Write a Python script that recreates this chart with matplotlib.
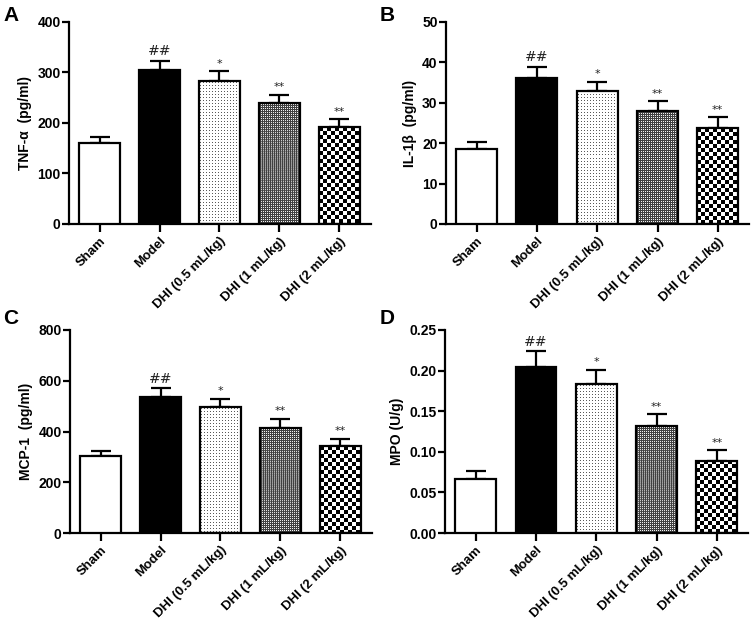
import matplotlib.pyplot as plt
import numpy as np

plt.rcParams['font.family'] = ['Liberation Sans', 'DejaVu Sans']

# DATA
groups = ['Sham', 'Model', 'DHI (0.5 mL/kg)', 'DHI (1 mL/kg)', 'DHI (2 mL/kg)']
sig_marks = ['', '##', '*', '**', '**']

tnf_mean = [160, 305, 283, 240, 192]
tnf_err = [12, 18, 19, 16, 16]

il1b_mean = [18.5, 36.2, 33.0, 27.9, 23.7]
il1b_err = [1.8, 2.7, 2.2, 2.5, 2.7]

mcp1_mean = [302, 535, 496, 415, 341]
mcp1_err = [20, 36, 34, 36, 30]

mpo_mean = [0.067, 0.204, 0.183, 0.132, 0.089]
mpo_err = [0.009, 0.020, 0.018, 0.014, 0.013]

panels = [
    ('A', tnf_mean, tnf_err, 'TNF-\u03b1  (pg/ml)', 400, 100, '%d'),
    ('B', il1b_mean, il1b_err, 'IL-1\u03b2  (pg/ml)', 50, 10, '%d'),
    ('C', mcp1_mean, mcp1_err, 'MCP-1  (pg/ml)', 800, 200, '%d'),
    ('D', mpo_mean, mpo_err, 'MPO (U/g)', 0.25, 0.05, '%.2f'),
]

# axes rectangles (fig fraction) : left, bottom, width, height
rects = [
    (0.0915, 0.6393, 0.400, 0.3253),
    (0.5915, 0.6393, 0.402, 0.3253),
    (0.0928, 0.1417, 0.400, 0.3269),
    (0.5902, 0.1417, 0.402, 0.3269),
]
letter_pos = [(0.004, 0.990), (0.503, 0.990), (0.004, 0.503), (0.503, 0.503)]

BAR_W = 0.68
LW = 1.6


def tile_pattern(kind, h, w):
    yy, xx = np.mgrid[0:h, 0:w]
    if kind == 'dots':
        img = np.where((xx % 3 == 1) & (yy % 3 == 1), 0.35, 1.0)
    elif kind == 'fine':
        img = np.where((xx % 2 == 0) & (yy % 2 == 0), 0.95, 0.25)
    else:
        img = np.where(((xx // 4) + (yy // 4)) % 2 == 0, 0.0, 1.0)
    return img


fig = plt.figure(figsize=(7.54, 6.21), dpi=100)

for (letter, mean, err, ylabel, ymax, ystep, fmt), rect, lp in zip(panels, rects, letter_pos):
    ax = fig.add_axes(rect)
    x = np.arange(len(groups))
    faces = ['white', 'black', 'none', 'none', 'none']
    bars = ax.bar(x, mean, width=BAR_W, color=faces, edgecolor='black',
                  linewidth=LW, zorder=3)
    ax.errorbar(x, mean, yerr=[np.zeros(len(mean)), err], fmt='none',
                ecolor='black', elinewidth=LW, capsize=7.5, capthick=LW, zorder=2)

    ax.set_xlim(-0.51, 4.52)
    ax.set_ylim(0, ymax)

    # pattern fills
    fig.canvas.draw()
    for b, kind in zip(list(bars)[2:], ['dots', 'fine', 'checker']):
        x0, y0 = b.get_x(), 0
        x1, y1 = b.get_x() + b.get_width(), b.get_height()
        p0 = ax.transData.transform((x0, y0))
        p1 = ax.transData.transform((x1, y1))
        w_px = int(round(p1[0] - p0[0]))
        h_px = int(round(p1[1] - p0[1]))
        img = tile_pattern(kind, h_px, w_px)
        interp = 'antialiased' if kind == 'fine' else 'nearest'
        im = ax.imshow(img, cmap='gray', vmin=0, vmax=1, extent=(x0, x1, y0, y1),
                       aspect='auto', interpolation=interp, origin='upper', zorder=2.5)
        im.set_clip_path(b)
    ax.set_xlim(-0.51, 4.52)
    ax.set_ylim(0, ymax)

    for xi, m, e, s in zip(x, mean, err, sig_marks):
        if not s:
            continue
        fs = 10 if s == '##' else 8
        ax.text(xi, m + e + ymax * 0.012, s, ha='center', va='bottom',
                fontsize=fs, family='DejaVu Sans', color='#222222')

    ax.spines['top'].set_visible(False)
    ax.spines['right'].set_visible(False)
    ax.spines['left'].set_linewidth(LW)
    ax.spines['bottom'].set_linewidth(LW)
    ax.tick_params(axis='both', direction='out', width=LW, length=5, labelsize=10)
    ax.tick_params(axis='y', pad=1)
    ax.tick_params(axis='x', length=6, pad=2)

    ax.set_yticks(np.arange(0, ymax + ystep / 2, ystep))
    ax.set_yticklabels([fmt % v for v in np.arange(0, ymax + ystep / 2, ystep)],
                       fontweight='bold')
    ax.set_xticks(x)
    ax.set_xticklabels(groups, rotation=45, ha='right', rotation_mode='anchor',
                       fontweight='bold', fontsize=9.5)
    ax.set_ylabel(ylabel, fontweight='bold', fontsize=10, labelpad=4)

    fig.text(lp[0], lp[1], letter, fontsize=15, fontweight='bold', va='top', ha='left')

plt.savefig('out.png', dpi=100)
